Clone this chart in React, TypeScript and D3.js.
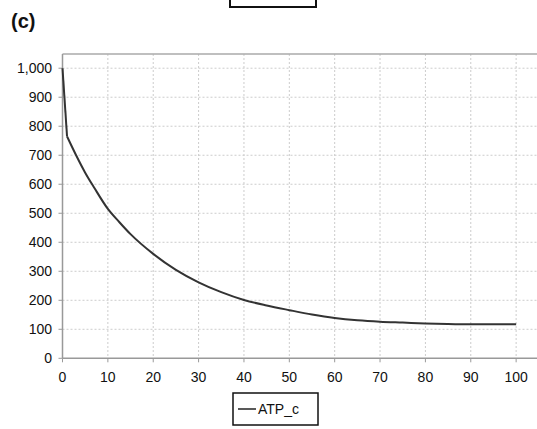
import React from "react";
import * as d3 from "d3";

const times = [0, 1, 3, 5, 7, 10, 12.5, 15, 20, 25, 30, 35, 40, 45, 50, 55, 60, 65, 70, 75, 80, 85, 90, 95, 100];
const atpValues = [1000, 765, 700, 640, 588, 515, 470, 428, 360, 305, 262, 228, 201, 182, 166, 151, 139, 131, 126, 123, 120, 118, 117, 117, 117];
const xTicks = [0, 10, 20, 30, 40, 50, 60, 70, 80, 90, 100];
const yTicks = [0, 100, 200, 300, 400, 500, 600, 700, 800, 900, 1000];
const seriesName = "ATP_c";
const panelLabel = "(c)";

const W = 537;
const H = 429;
const left = 62.5;
const right = 537;
const top = 54;
const bottom = 358.3;

export default function App() {
  const x = d3.scaleLinear().domain([0, 104.6]).range([left, right]);
  const y = d3.scaleLinear().domain([0, 1049]).range([bottom, top]);
  const pts: [number, number][] = times.map((t, i) => [x(t), y(atpValues[i])]);
  const straight = d3.line().curve(d3.curveLinear);
  const smooth = d3.line().curve(d3.curveMonotoneX);
  const fmt = d3.format(",");
  const font = "'Liberation Sans', Arial, sans-serif";
  return (
    <svg
      width={W}
      height={H}
      style={{ position: "absolute", left: 0, top: 0, background: "#fff" }}
      fontFamily={font}
    >
      <rect x={0} y={0} width={W} height={H} fill="#fff" />
      <rect x={230} y={-5} width={86} height={12} fill="none" stroke="#111" strokeWidth={2} />
      <text x={11} y={28} fontSize={20} fontWeight="bold" fill="#111">
        {panelLabel}
      </text>
      {xTicks.slice(1).map((t) => (
        <line key={"gx" + t} x1={x(t)} x2={x(t)} y1={top} y2={bottom} stroke="#ccc" strokeDasharray="2,2" />
      ))}
      {yTicks.slice(1).map((t) => (
        <line key={"gy" + t} x1={left} x2={right} y1={y(t)} y2={y(t)} stroke="#ccc" strokeDasharray="2,2" />
      ))}
      <line x1={left} x2={right} y1={top} y2={top} stroke="#aaa" strokeWidth={1.5} />
      <line x1={left} x2={left} y1={top} y2={bottom} stroke="#999" strokeWidth={1.5} />
      <line x1={left} x2={right} y1={bottom} y2={bottom} stroke="#999" strokeWidth={1.5} />
      {yTicks.map((t) => (
        <g key={"yt" + t}>
          <line x1={left - 4} x2={left} y1={y(t)} y2={y(t)} stroke="#999" />
          <text x={52} y={y(t) + 5} fontSize={14} textAnchor="end" fill="#111">
            {fmt(t)}
          </text>
        </g>
      ))}
      {xTicks.map((t) => (
        <g key={"xt" + t}>
          <line x1={x(t)} x2={x(t)} y1={bottom} y2={bottom + 4} stroke="#999" />
          <text x={x(t)} y={382} fontSize={14} textAnchor="middle" fill="#111">
            {t}
          </text>
        </g>
      ))}
      <path d={straight(pts.slice(0, 2)) || ""} fill="none" stroke="#333" strokeWidth={2} />
      <path d={smooth(pts.slice(1)) || ""} fill="none" stroke="#333" strokeWidth={2} />
      <rect x={233} y={393} width={85} height={32} fill="#fff" stroke="#111" strokeWidth={1.5} />
      <line x1={238} x2={256} y1={409} y2={409} stroke="#222" strokeWidth={1.5} />
      <text x={258} y={414} fontSize={14} fill="#111">
        {seriesName}
      </text>
    </svg>
  );
}
